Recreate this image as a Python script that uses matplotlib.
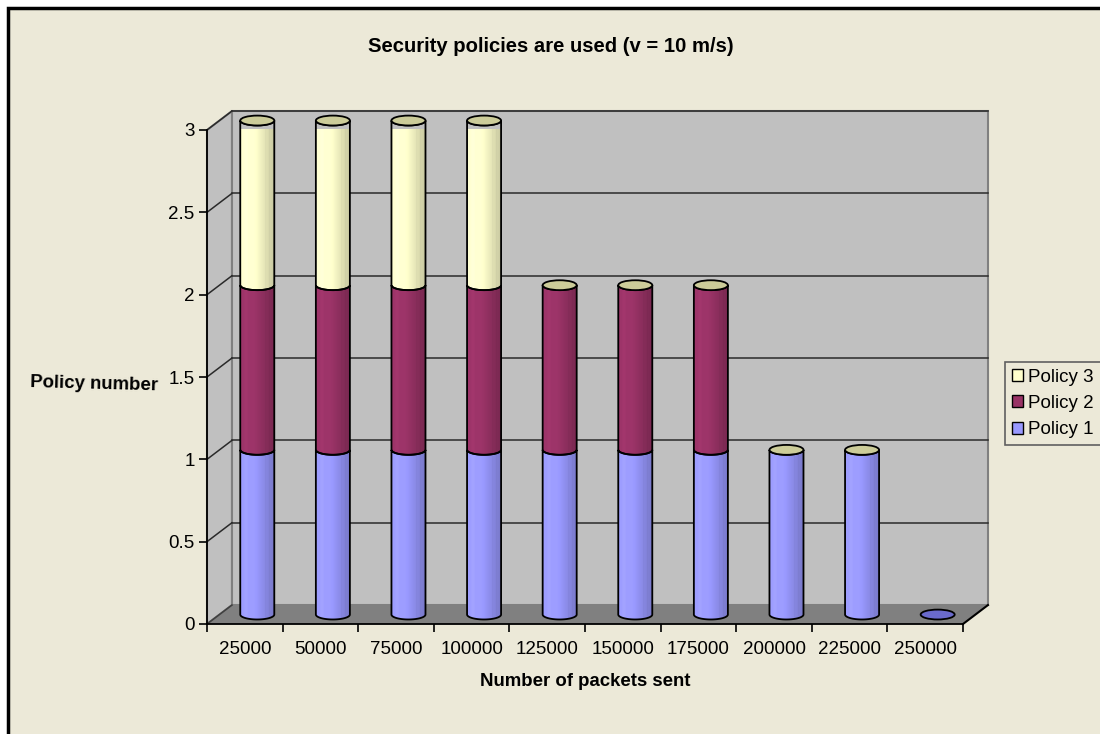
import numpy as np
import matplotlib
matplotlib.use("Agg")
import matplotlib.pyplot as plt
from matplotlib.patches import Polygon, Ellipse, Rectangle
from matplotlib.colors import to_rgb

plt.rcParams['font.family'] = ['Liberation Sans', 'DejaVu Sans']

# data
packets = ["25000", "50000", "75000", "100000", "125000",
           "150000", "175000", "200000", "225000", "250000"]
policy1 = [1, 1, 1, 1, 1, 1, 1, 1, 1, 0]
policy2 = [1, 1, 1, 1, 1, 1, 1, 0, 0, 0]
policy3 = [1, 1, 1, 1, 0, 0, 0, 0, 0, 0]
series = [("Policy 1", policy1, "#9999FF"),
          ("Policy 2", policy2, "#993366"),
          ("Policy 3", policy3, "#FFFFCC")]

BG = "#ECE9D8"
WALL = "#C0C0C0"
FLOOR = "#808080"
CAP = "#CCCC99"
ZERO_CAP = "#6A6ACC"

# 3d look: depth shift of the back wall and cylinder size, in data units
DX, DY = 0.33, 0.115
HALF_W = 0.225
ELL_B = 0.03
YMAX = 3

fig = plt.figure(figsize=(11, 7.34), dpi=100, facecolor="white")
fig.patches.append(Rectangle((8 / 1100, -0.05), 1.1, 1 - 8 / 734 + 0.05,
                             transform=fig.transFigure, facecolor=BG,
                             edgecolor="black", linewidth=2.5, zorder=-10))

ax = fig.add_axes([207 / 1100, 110 / 734, 756 / 1100, 494 / 734])
ax.set_facecolor("none")
n = len(packets)
ax.set_xlim(0, n)
ax.set_ylim(0, YMAX)

# walls and floor
back = Polygon([(DX, DY), (n + DX, DY), (n + DX, YMAX + DY), (DX, YMAX + DY)],
               facecolor=WALL, edgecolor="#808080", lw=1.5, zorder=1, clip_on=False)
left = Polygon([(0, 0), (DX, DY), (DX, YMAX + DY), (0, YMAX)],
               facecolor=WALL, edgecolor="#808080", lw=1.5, zorder=1, clip_on=False)
floor = Polygon([(0, 0), (n, 0), (n + DX, DY), (DX, DY)],
                facecolor=FLOOR, edgecolor="none", zorder=2, clip_on=False)
for p in (back, left, floor):
    ax.add_patch(p)
ax.plot([n, n + DX], [0, DY], color="black", lw=1.5, zorder=3, clip_on=False)
ax.plot([0, DX], [0, DY], color="#404040", lw=1.2, zorder=3, clip_on=False)

grid_vals = np.arange(0.5, YMAX + 0.01, 0.5)
for v in grid_vals:
    ax.plot([DX, n + DX], [v + DY, v + DY], color="#2a2a2a", lw=1.1, zorder=2,
            clip_on=False)
    ax.plot([0, DX], [v, v + DY], color="#2a2a2a", lw=1.1, zorder=2, clip_on=False)


def shade(color, npts=64):
    base = np.array(to_rgb(color))
    t = np.linspace(0, 1, npts)
    f = np.where(t < 0.4, 1.03, 1.03 - (t - 0.4) / 0.6 * 0.25)
    f = f + 0.03 * ((t > 0.12) & (t < 0.22))
    # faint vertical streaks on the dark side
    f = f - 0.03 * ((t > 0.72) & (t < 0.76)) - 0.03 * ((t > 0.84) & (t < 0.87))
    rgb = np.clip(base[None, :] * f[:, None], 0, 1)
    return rgb[None, :, :]


def body_path(cx, y0, y1, m=40):
    th = np.linspace(np.pi, 2 * np.pi, m)
    bottom = np.column_stack([cx + HALF_W * np.cos(th), y0 + ELL_B * np.sin(th)])
    top = np.column_stack([cx + HALF_W * np.cos(th[::-1]), y1 + ELL_B * np.sin(th[::-1])])
    return np.vstack([[cx - HALF_W, y1], bottom, top])


zb = 5
for i in range(n):
    cx = i + 0.5 + DX / 2
    base = 0.0
    for name, vals, color in series:
        v = vals[i]
        if v <= 0:
            continue
        y0 = base + DY / 2
        y1 = base + v + DY / 2
        pts = body_path(cx, y0, y1)
        poly = Polygon(pts, closed=True, facecolor="none", edgecolor="black",
                       lw=1.3, zorder=zb + 1, clip_on=False)
        im = ax.imshow(shade(color), extent=[cx - HALF_W, cx + HALF_W,
                                             y0 - ELL_B, y1 + ELL_B],
                       aspect="auto", interpolation="bilinear", zorder=zb)
        ax.add_patch(poly)
        im.set_clip_path(poly)
        im.set_clip_box(None)
        base += v
    top = base + DY / 2
    cap = Ellipse((cx, top), 2 * HALF_W, 2 * ELL_B,
                  facecolor=CAP if base > 0 else ZERO_CAP,
                  edgecolor="black", lw=1.3, zorder=zb + 2, clip_on=False)
    ax.add_patch(cap)

ax.set_xlim(0, n)
ax.set_ylim(0, YMAX)

# axes and ticks
for s in ("top", "right"):
    ax.spines[s].set_visible(False)
for s in ("left", "bottom"):
    ax.spines[s].set_linewidth(1.3)
    ax.spines[s].set_zorder(4)
ax.set_yticks(np.arange(0, YMAX + 0.01, 0.5))
ax.set_yticklabels(["0", "0.5", "1", "1.5", "2", "2.5", "3"])
ax.set_xticks(np.arange(0, n + 1))
ax.set_xticklabels([])
ax.set_xticks(np.arange(n) + 0.5, minor=True)
ax.set_xticklabels(packets, minor=True)
ax.tick_params(axis="both", which="major", direction="out", length=6, width=1.2,
               color="black", labelsize=13.5)
ax.tick_params(axis="x", which="minor", length=0, labelsize=13.5, pad=12)
ax.tick_params(axis="y", pad=3)

fig.text(551 / 1100, 1 - 47 / 734, "Security policies are used (v = 10 m/s)",
         fontsize=14.6, fontweight="bold", ha="center", va="center")
fig.text(94 / 1100, 1 - 384 / 734, "Policy number", fontsize=13.4,
         fontweight="bold", ha="center", va="center", rotation=-1.5)
fig.text(585 / 1100, 1 - 682 / 734, "Number of packets sent", fontsize=13.4,
         fontweight="bold", ha="center", va="center")

handles = [Rectangle((0, 0), 1, 1, facecolor=c, edgecolor="black", lw=1)
           for _, _, c in series[::-1]]
labels = [nm for nm, _, _ in series[::-1]]
leg = fig.legend(handles, labels, loc="upper left",
                 bbox_to_anchor=(1005 / 1100, 1 - 362 / 734), fontsize=13.5,
                 frameon=True, fancybox=False, facecolor=BG, edgecolor="#606060",
                 framealpha=1, handlelength=0.6, handleheight=0.6,
                 handletextpad=0.3, borderpad=0.35, labelspacing=0.5,
                 borderaxespad=0)
leg.get_frame().set_linewidth(1.2)

fig.savefig("out.png", dpi=100, facecolor=fig.get_facecolor())
